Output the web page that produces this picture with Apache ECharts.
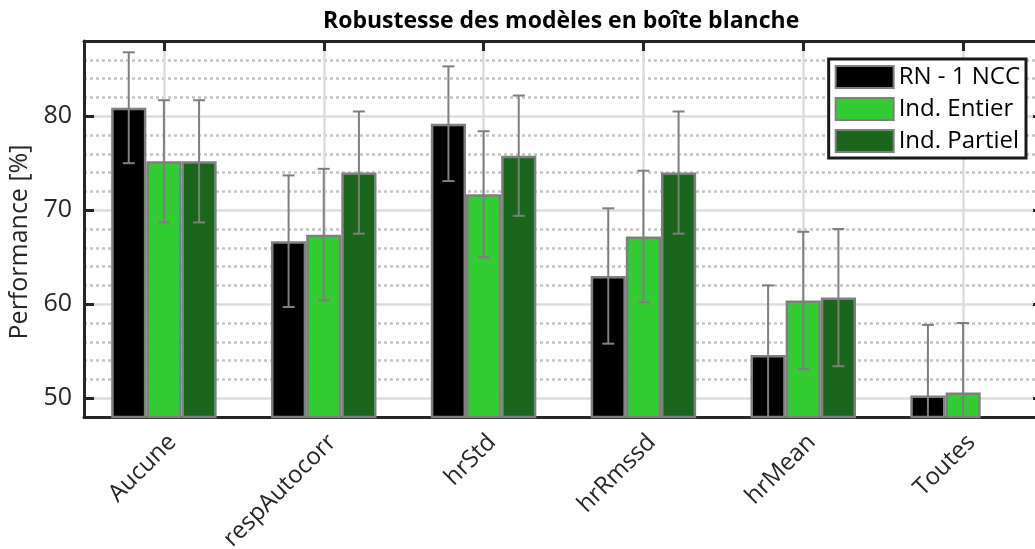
<!DOCTYPE html>
<html>
<head>
<meta charset="utf-8">
<script src="https://cdn.jsdelivr.net/npm/echarts@6/dist/echarts.min.js"></script>
<style>
  html, body { margin: 0; padding: 0; background: #fff; }
  #chart { width: 1035px; height: 549px; }
</style>
</head>
<body>
<div id="chart"></div>
<script>
// données
const categories = ['Aucune', 'respAutocorr', 'hrStd', 'hrRmssd', 'hrMean', 'Toutes']
const seriesNames = ['RN - 1 NCC', 'Ind. Entier', 'Ind. Partiel']
const rnMean = [80.9, 66.7, 79.2, 63.0, 54.6, 50.3]
const rnStd = [5.9, 7.0, 6.1, 7.2, 7.4, 7.5]
const entierMean = [75.2, 67.4, 71.7, 67.2, 60.4, 50.6]
const entierStd = [6.5, 7.0, 6.7, 7.0, 7.3, 7.4]
const partielMean = [75.2, 74.0, 75.8, 74.0, 60.7, null]
const partielStd = [6.5, 6.5, 6.4, 6.5, 7.3, null]
const yTicks = [50, 60, 70, 80]
const yMin = 48
const yMax = 88

const colors = ['#000000', '#33cc33', '#1c651c']
const means = [rnMean, entierMean, partielMean]
const stds = [rnStd, entierStd, partielStd]
const catGap = 0.34
const font = 'Open Sans'
const dark = '#262626'

const chart = echarts.init(document.getElementById('chart'))

const barSeries = seriesNames.map((name, k) => ({
  name: name,
  type: 'bar',
  data: means[k],
  barGap: '0%',
  barCategoryGap: (catGap * 100) + '%',
  itemStyle: { color: colors[k], borderColor: '#7f7f7f', borderWidth: 2.5 },
  emphasis: { disabled: true },
  z: 2
}))

const errorSeries = seriesNames.map((name, k) => ({
  type: 'custom',
  data: categories.map((c, i) => [i, means[k][i], stds[k][i]]),
  encode: { x: 0, y: 1 },
  z: 4,
  silent: true,
  renderItem: (params, api) => {
    const m = api.value(1)
    const s = api.value(2)
    if (m == null || isNaN(m)) return null
    const band = api.size([1, 0])[0]
    const bw = band * (1 - catGap) / 3
    const off = (k - 1) * bw
    const lo = Math.max(m - s, yMin)
    const hi = Math.min(m + s, yMax)
    const pHi = api.coord([api.value(0), hi])
    const pLo = api.coord([api.value(0), lo])
    const x = pHi[0] + off
    const cap = 6
    const st = { stroke: '#7f7f7f', lineWidth: 2 }
    const children = [
      { type: 'line', shape: { x1: x, y1: pHi[1], x2: x, y2: pLo[1] }, style: st }
    ]
    if (m + s <= yMax) children.push({ type: 'line', shape: { x1: x - cap, y1: pHi[1], x2: x + cap, y2: pHi[1] }, style: st })
    if (m - s >= yMin) children.push({ type: 'line', shape: { x1: x - cap, y1: pLo[1], x2: x + cap, y2: pLo[1] }, style: st })
    return { type: 'group', children: children }
  }
}))

// lignes de grille : pointillés tous les 2, traits pleins tous les 10
const minorColors = ['#c4c4c4', 'rgba(0,0,0,0)', '#c4c4c4', '#c4c4c4', '#c4c4c4']
const majorColors = ['rgba(0,0,0,0)', '#dcdcdc', 'rgba(0,0,0,0)', 'rgba(0,0,0,0)', 'rgba(0,0,0,0)']

const option = {
  animation: false,
  title: {
    text: 'Robustesse des modèles en boîte blanche',
    left: 323,
    top: 10,
    padding: 0,
    textStyle: { fontFamily: font, fontWeight: 'bold', fontSize: 23, color: '#000' }
  },
  legend: {
    data: seriesNames,
    orient: 'vertical',
    right: 9,
    top: 59,
    padding: [6, 6, 5, 6],
    itemWidth: 58,
    itemHeight: 22,
    itemGap: 8,
    borderColor: '#1a1a1a',
    borderWidth: 3,
    backgroundColor: '#fff',
    selectedMode: false,
    icon: 'rect',
    textStyle: { fontFamily: font, fontSize: 24, color: '#000' }
  },
  grid: { left: 84, right: -8, top: 41, bottom: 132, outerBoundsMode: 'none', containLabel: false },
  xAxis: [
    {
      type: 'category',
      data: categories,
      position: 'bottom',
      axisLine: { lineStyle: { color: dark, width: 3 } },
      axisTick: { show: false },
      splitLine: { show: true, alignWithLabel: true, lineStyle: { color: '#dcdcdc', width: 2.5 } },
      axisLabel: { rotate: 45, margin: 13, verticalAlign: 'top', fontFamily: font, fontSize: 24, color: dark }
    },
    {
      type: 'category',
      data: categories,
      position: 'top',
      axisLine: { lineStyle: { color: dark, width: 3 } },
      axisTick: { show: true, inside: true, alignWithLabel: true, length: 10, lineStyle: { color: dark, width: 3 } },
      axisLabel: { show: false },
      splitLine: { show: false }
    }
  ],
  yAxis: [
    {
      type: 'value',
      position: 'left',
      min: yMin,
      max: yMax,
      interval: 2,
      name: 'Performance [%]',
      nameLocation: 'middle',
      nameGap: 50,
      nameTextStyle: { fontFamily: font, fontSize: 25, color: dark, padding: [0, 26, 0, 0] },
      axisLine: { show: true, lineStyle: { color: dark, width: 3 } },
      axisTick: { show: true, inside: true, length: 10, customValues: yTicks, lineStyle: { color: dark, width: 3 } },
      axisLabel: { customValues: yTicks, margin: 12, fontFamily: font, fontSize: 25, color: dark },
      splitLine: { show: false }
    },
    {
      type: 'value',
      position: 'right',
      min: yMin,
      max: yMax,
      interval: 2,
      axisLine: { show: true, lineStyle: { color: dark, width: 3 } },
      axisTick: { show: true, inside: true, length: 10, customValues: yTicks, lineStyle: { color: dark, width: 3 } },
      axisLabel: { show: false },
      splitLine: { show: false }
    },
    {
      type: 'value',
      min: yMin,
      max: yMax,
      interval: 2,
      axisLine: { show: false },
      axisTick: { show: false },
      axisLabel: { show: false },
      splitLine: { show: true, lineStyle: { color: minorColors, width: 2.5, type: [3, 3] } }
    },
    {
      type: 'value',
      min: yMin,
      max: yMax,
      interval: 2,
      axisLine: { show: false },
      axisTick: { show: false },
      axisLabel: { show: false },
      splitLine: { show: true, lineStyle: { color: majorColors, width: 2.5 } }
    }
  ],
  series: [...barSeries, ...errorSeries]
}

chart.setOption(option)
</script>
</body>
</html>
